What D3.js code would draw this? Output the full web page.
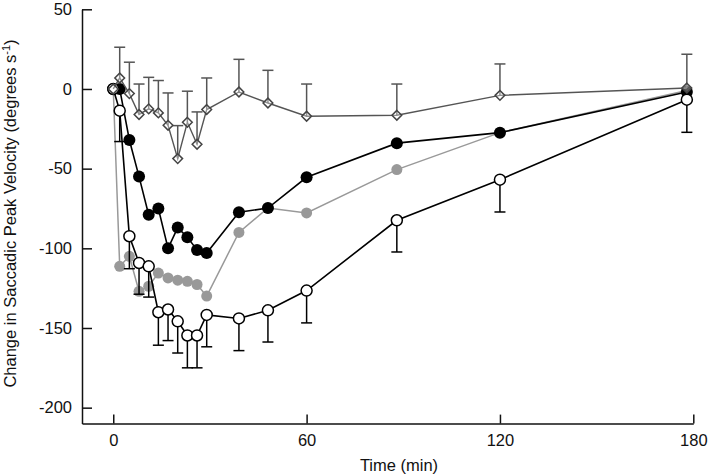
<!DOCTYPE html>
<html><head><meta charset="utf-8">
<script src="https://cdn.jsdelivr.net/npm/d3@7"></script>
<style>
body{margin:0;background:#fff;}
text{font-family:Arial,"Liberation Sans",sans-serif;}
</style></head>
<body><svg id="c" width="709" height="476"></svg>
<script>
const times = [0, 2, 5, 8, 11, 14, 17, 20, 23, 26, 29, 39, 48, 60, 88, 120, 178];
const diamondValues = [0, 6.9, -2.9, -16, -12.5, -15, -22.8, -43.7, -20.9, -34.7, -12.9, -1.9, -8.8, -17.1, -16.5, -4, 0.6];
const diamondErr = [0, 19.3, 19.7, 19.1, 19.8, 20.3, 20.3, 20.7, 19.5, 20.3, 19.8, 20.5, 20.5, 20.2, 19.6, 19.7, 21.2];
const blackValues = [0, 0, -32, -55, -79, -75, -100, -87, -93, -101, -103, -77.4, -74.7, -55.4, -34, -27.4, -1.9];
const grayValues = [0, -111.3, -105, -127, -123.8, -115.5, -118.6, -120, -120.7, -122.7, -130, -90, -74.7, -77.8, -50.6, -27.4, -1];
const openValues = [0, -13.6, -92.4, -109.2, -111.3, -140.1, -138.4, -145.8, -154.7, -154.7, -141.8, -144, -138.9, -126.5, -82.4, -56.9, -6.7];
const openErr = [0, 19.4, 20.4, 19.6, 19.3, 20.7, 19.5, 19.9, 20.3, 20.3, 20, 20.2, 19.9, 20.3, 19.9, 20.3, 20.5];
const xTicks = [0, 60, 120, 180];
const yTicks = [50, 0, -50, -100, -150, -200];
const xLabel = "Time (min)";
const yLabel = "Change in Saccadic Peak Velocity (degrees s";
const yLabelSup = "-1";

const svg = d3.select("#c");
const x = d3.scaleLinear().domain([-9.7, 180]).range([82, 693.3]);
const y = d3.scaleLinear().domain([-210, 50]).range([423.6, 9.3]);

// axes
const yAxis = d3.axisLeft(y).tickValues(yTicks).tickFormat(d => String(d)).tickSizeInner(-10).tickSizeOuter(0).tickPadding(10);
const gy = svg.append("g").attr("transform", `translate(${x(-9.7)},0)`).call(yAxis);
const xAxis = d3.axisBottom(x).tickValues(xTicks).tickFormat(d => String(d)).tickSizeInner(-9).tickSizeOuter(0).tickPadding(11);
const gx = svg.append("g").attr("transform", `translate(0,${y(-210)})`).call(xAxis);
[gx, gy].forEach(g => {
  g.selectAll("path,line").attr("stroke", "#111").attr("stroke-width", 1.5);
  g.selectAll("text").attr("font-size", 16.5).attr("fill", "#111").style("font-family", 'Arial,"Liberation Sans",sans-serif');
});

svg.append("text").attr("x", 399).attr("y", 471).attr("text-anchor", "middle")
  .attr("font-size", 16.5).attr("fill", "#111").text(xLabel);
const yl = svg.append("text").attr("transform", "translate(16,213.5) rotate(-90)")
  .attr("text-anchor", "middle").attr("font-size", 16.5).attr("fill", "#111");
yl.append("tspan").text(yLabel);
yl.append("tspan").attr("dy", -6).attr("font-size", 11).text(yLabelSup);
yl.append("tspan").attr("dy", 6).text(")");

const line = d3.line().x(d => x(d.t)).y(d => y(d.v));
function pts(vals, errs) { return times.map((t, i) => ({t, v: vals[i], e: errs ? errs[i] : 0})); }

function errorBars(data, dir, color) {
  const g = svg.append("g").attr("stroke", color).attr("stroke-width", 1.5);
  data.filter(d => d.e > 0).forEach(d => {
    const end = d.v + dir * d.e;
    g.append("line").attr("x1", x(d.t)).attr("x2", x(d.t)).attr("y1", y(d.v)).attr("y2", y(end));
    g.append("line").attr("x1", x(d.t) - 5.5).attr("x2", x(d.t) + 5.5).attr("y1", y(end)).attr("y2", y(end));
  });
}

// gray filled
const gray = pts(grayValues);
svg.append("path").datum(gray).attr("d", line).attr("fill", "none").attr("stroke", "#999").attr("stroke-width", 1.5);
svg.append("g").selectAll("circle").data(gray).join("circle")
  .attr("cx", d => x(d.t)).attr("cy", d => y(d.v)).attr("r", 5.5).attr("fill", "#999");

// black filled
const black = pts(blackValues);
svg.append("path").datum(black).attr("d", line).attr("fill", "none").attr("stroke", "#000").attr("stroke-width", 1.6);
svg.append("g").selectAll("circle").data(black).join("circle")
  .attr("cx", d => x(d.t)).attr("cy", d => y(d.v)).attr("r", 6).attr("fill", "#000");

// open circles
const open = pts(openValues, openErr);
errorBars(open, -1, "#000");
svg.append("path").datum(open).attr("d", line).attr("fill", "none").attr("stroke", "#000").attr("stroke-width", 1.6);
svg.append("g").selectAll("circle").data(open).join("circle")
  .attr("cx", d => x(d.t)).attr("cy", d => y(d.v)).attr("r", 5.5)
  .attr("fill", "#fff").attr("stroke", "#000").attr("stroke-width", 1.5);

// diamonds
const dia = pts(diamondValues, diamondErr);
errorBars(dia, 1, "#555");
svg.append("path").datum(dia).attr("d", line).attr("fill", "none").attr("stroke", "#555").attr("stroke-width", 1.4);
svg.append("g").selectAll("path").data(dia).join("path")
  .attr("d", d3.symbol(d3.symbolDiamond2, 60))
  .attr("transform", d => `translate(${x(d.t)},${y(d.v)})`)
  .attr("fill", "rgba(255,255,255,0.35)").attr("stroke", "#444").attr("stroke-width", 1.5);
</script></body></html>
